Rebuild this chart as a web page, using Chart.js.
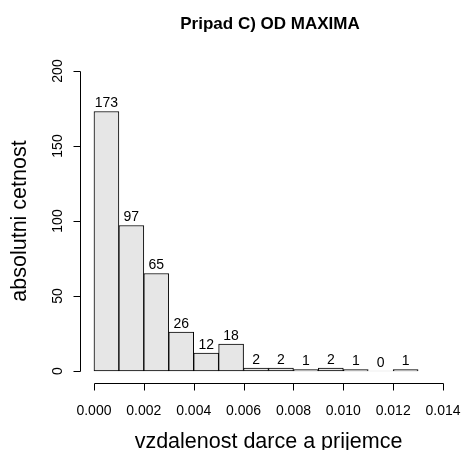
<!DOCTYPE html>
<html><head><meta charset="utf-8">
<script src="https://cdn.jsdelivr.net/npm/chart.js@4/dist/chart.umd.min.js"></script>
<style>html,body{margin:0;padding:0;background:#fff}#wrap{width:463px;height:450px}</style>
</head><body><div id="wrap"><canvas id="c" width="463" height="450"></canvas></div>
<script>
const binStarts = [0,0.001,0.002,0.003,0.004,0.005,0.006,0.007,0.008,0.009,0.010,0.011,0.012];
const binWidth = 0.001;
const counts = [173,97,65,26,12,18,2,2,1,2,1,0,1];
const xTicks = [0,0.002,0.004,0.006,0.008,0.010,0.012,0.014];
const yTicks = [0,50,100,150,200];
const titleText = "Pripad C) OD MAXIMA";
const xTitle = "vzdalenost darce a prijemce";
const yTitle = "absolutni cetnost";

const FONT = '"Liberation Sans", Arial, sans-serif';

const rAxes = {
  id: 'rAxes',
  afterDatasetsDraw(chart) {
    const ctx = chart.ctx, xs = chart.scales.x, ys = chart.scales.y, ca = chart.chartArea;
    ctx.save();
    ctx.strokeStyle = '#000'; ctx.fillStyle = '#000'; ctx.lineWidth = 1;
    // x axis
    const yAx = Math.round(ca.bottom) + 0.5;
    ctx.beginPath();
    ctx.moveTo(Math.round(xs.getPixelForValue(xTicks[0])) + 0.5, yAx);
    ctx.lineTo(Math.round(xs.getPixelForValue(xTicks[xTicks.length-1])) + 0.5, yAx);
    xTicks.forEach(v => { const px = Math.round(xs.getPixelForValue(v)) + 0.5; ctx.moveTo(px, yAx); ctx.lineTo(px, yAx + 7); });
    ctx.stroke();
    ctx.font = '14px ' + FONT; ctx.textAlign = 'center'; ctx.textBaseline = 'alphabetic';
    xTicks.forEach(v => ctx.fillText(v.toFixed(3), xs.getPixelForValue(v), 415));
    // y axis
    const xAx = Math.round(ca.left) + 0.5;
    ctx.beginPath();
    ctx.moveTo(xAx, Math.round(ys.getPixelForValue(yTicks[0])) + 0.5);
    ctx.lineTo(xAx, Math.round(ys.getPixelForValue(yTicks[yTicks.length-1])) + 0.5);
    yTicks.forEach(v => { const py = Math.round(ys.getPixelForValue(v)) + 0.5; ctx.moveTo(xAx, py); ctx.lineTo(xAx - 7, py); });
    ctx.stroke();
    yTicks.forEach(v => {
      ctx.save(); ctx.translate(61.5, ys.getPixelForValue(v)); ctx.rotate(-Math.PI/2);
      ctx.textAlign = 'center'; ctx.fillText(String(v), 0, 0); ctx.restore();
    });
    // value labels
    ctx.font = '14px ' + FONT; ctx.textAlign = 'center';
    counts.forEach((c, i) => {
      ctx.fillText(String(c), xs.getPixelForValue(binStarts[i] + binWidth/2), ys.getPixelForValue(c) - 4.5);
    });
    // titles
    const cx = (ca.left + ca.right) / 2, cy = (ca.top + ca.bottom) / 2;
    ctx.font = 'bold 17px ' + FONT;
    ctx.fillText(titleText, cx + 1.5, 29);
    ctx.font = '21.5px ' + FONT;
    ctx.fillText(xTitle, cx, 448);
    ctx.save(); ctx.translate(26, cy); ctx.rotate(-Math.PI/2);
    ctx.fillText(yTitle, 0, 0); ctx.restore();
    ctx.restore();
  }
};

new Chart(document.getElementById('c'), {
  type: 'bar',
  data: {
    datasets: [{
      data: binStarts.map((b, i) => ({x: b + binWidth/2, y: counts[i]})),
      backgroundColor: '#e6e6e6',
      borderColor: '#000',
      borderWidth: ctx => (ctx.raw && ctx.raw.y === 0) ? 0 : 1,
      borderSkipped: false,
      barPercentage: 1,
      categoryPercentage: 1
    }]
  },
  options: {
    responsive: false,
    animation: false,
    devicePixelRatio: 1,
    layout: { padding: { left: 80, right: 6, top: 59, bottom: 67 } },
    plugins: { legend: { display: false }, title: { display: false }, tooltip: { enabled: false } },
    scales: {
      x: { type: 'linear', display: false, offset: false, min: -0.00056, max: 0.01456, grid: { display: false } },
      y: { type: 'linear', display: false, min: -8, max: 208, grid: { display: false } }
    }
  },
  plugins: [rAxes]
});
</script></body></html>
